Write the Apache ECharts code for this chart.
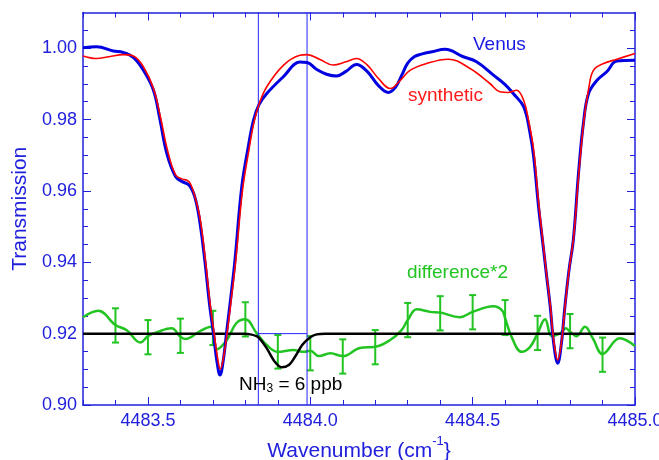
<!DOCTYPE html>
<html>
<head>
<meta charset="utf-8">
<script src="https://cdn.jsdelivr.net/npm/echarts@6/dist/echarts.min.js"></script>
<style>
html,body{margin:0;padding:0;background:#fff;}
#chart{width:659px;height:460px;}
</style>
</head>
<body>
<div id="chart"></div>
<script>
// ---- data ----
var xMajorTicks = [4483.5, 4484.0, 4484.5, 4485.0];
var xMinorTicks = [4483.3, 4483.4, 4483.5, 4483.6, 4483.7, 4483.8, 4483.9, 4484.0, 4484.1, 4484.2, 4484.3, 4484.4, 4484.5, 4484.6, 4484.7, 4484.8, 4484.9, 4485.0];
var yMajorTicks = [0.90, 0.92, 0.94, 0.96, 0.98, 1.00];
var yMinorTicks = [0.905, 0.91, 0.915, 0.925, 0.93, 0.935, 0.945, 0.95, 0.955, 0.965, 0.97, 0.975, 0.985, 0.99, 0.995, 1.005];

var venus = [
  [4483.300, 1.0001], [4483.342, 1.0004], [4483.393, 0.9992], [4483.424, 0.9988], [4483.455, 0.9974],
  [4483.486, 0.9938], [4483.517, 0.9882], [4483.537, 0.9800], [4483.558, 0.9705], [4483.585, 0.9640],
  [4483.606, 0.9626], [4483.627, 0.9616], [4483.644, 0.9584], [4483.659, 0.9518], [4483.675, 0.9406],
  [4483.690, 0.9280], [4483.702, 0.9200], [4483.712, 0.9125], [4483.722, 0.9084], [4483.732, 0.9125],
  [4483.743, 0.9210], [4483.755, 0.9300], [4483.768, 0.9406], [4483.789, 0.9612], [4483.809, 0.9724],
  [4483.825, 0.9798], [4483.842, 0.9842], [4483.866, 0.9873], [4483.917, 0.9920], [4483.968, 0.9961],
  [4483.990, 0.9960], [4484.020, 0.9940], [4484.050, 0.9927], [4484.081, 0.9922], [4484.110, 0.9935],
  [4484.142, 0.9954], [4484.175, 0.9935], [4484.210, 0.9895], [4484.240, 0.9876], [4484.262, 0.9890],
  [4484.282, 0.9925], [4484.300, 0.9958], [4484.320, 0.9976], [4484.345, 0.9984], [4484.375, 0.9990],
  [4484.415, 0.9997], [4484.471, 0.9976], [4484.512, 0.9962], [4484.565, 0.9924], [4484.600, 0.9898],
  [4484.625, 0.9873], [4484.657, 0.9836], [4484.677, 0.9761], [4484.688, 0.9695], [4484.703, 0.9555],
  [4484.715, 0.9462], [4484.728, 0.9360], [4484.739, 0.9275], [4484.750, 0.9170], [4484.762, 0.9117],
  [4484.773, 0.9170], [4484.784, 0.9275], [4484.797, 0.9380], [4484.810, 0.9462], [4484.826, 0.9649],
  [4484.841, 0.9789], [4484.857, 0.9873], [4484.883, 0.9910], [4484.913, 0.9934], [4484.944, 0.9964],
  [4485.000, 0.9966]
];

var synthetic = [
  [4483.300, 0.9978], [4483.340, 0.9971], [4483.380, 0.9976], [4483.424, 0.9982], [4483.455, 0.9978],
  [4483.486, 0.9948], [4483.517, 0.9887], [4483.539, 0.9805], [4483.560, 0.9715], [4483.585, 0.9645],
  [4483.606, 0.9633], [4483.620, 0.9630], [4483.631, 0.9620], [4483.646, 0.9580], [4483.661, 0.9520],
  [4483.677, 0.9406], [4483.692, 0.9280], [4483.704, 0.9200], [4483.714, 0.9135], [4483.723, 0.9100],
  [4483.733, 0.9135], [4483.745, 0.9210], [4483.757, 0.9300], [4483.770, 0.9400], [4483.791, 0.9600],
  [4483.811, 0.9715], [4483.826, 0.9790], [4483.842, 0.9842], [4483.866, 0.9892], [4483.917, 0.9952],
  [4483.968, 0.9980], [4483.990, 0.9982], [4484.030, 0.9968], [4484.070, 0.9953], [4484.110, 0.9962],
  [4484.142, 0.9971], [4484.175, 0.9953], [4484.210, 0.9915], [4484.246, 0.9887], [4484.277, 0.9910],
  [4484.307, 0.9938], [4484.358, 0.9957], [4484.425, 0.9969], [4484.492, 0.9943], [4484.553, 0.9901],
  [4484.584, 0.9878], [4484.610, 0.9876], [4484.635, 0.9882], [4484.657, 0.9854], [4484.672, 0.9798],
  [4484.688, 0.9714], [4484.703, 0.9570], [4484.715, 0.9470], [4484.728, 0.9365], [4484.739, 0.9280],
  [4484.750, 0.9180], [4484.762, 0.9126], [4484.774, 0.9180], [4484.785, 0.9280], [4484.798, 0.9385],
  [4484.811, 0.9470], [4484.828, 0.9660], [4484.843, 0.9800], [4484.858, 0.9890], [4484.872, 0.9938],
  [4484.903, 0.9957], [4484.944, 0.9969], [4485.000, 0.9985]
];

var difference = [
  [4483.300, 0.9246], [4483.347, 0.9264], [4483.400, 0.9224], [4483.434, 0.9210], [4483.477, 0.9175],
  [4483.500, 0.9193], [4483.530, 0.9205], [4483.573, 0.9215], [4483.600, 0.9191], [4483.615, 0.9185],
  [4483.662, 0.9208], [4483.693, 0.9219], [4483.712, 0.9156], [4483.743, 0.9182], [4483.772, 0.9229],
  [4483.800, 0.9240], [4483.835, 0.9201], [4483.866, 0.9168], [4483.900, 0.9149], [4483.948, 0.9154],
  [4483.980, 0.9149], [4484.000, 0.9152], [4484.026, 0.9137], [4484.062, 0.9145], [4484.100, 0.9137],
  [4484.153, 0.9160], [4484.200, 0.9163], [4484.246, 0.9182], [4484.281, 0.9210], [4484.300, 0.9238],
  [4484.328, 0.9268], [4484.369, 0.9261], [4484.400, 0.9259], [4484.461, 0.9246], [4484.500, 0.9261],
  [4484.564, 0.9277], [4484.590, 0.9266], [4484.600, 0.9243], [4484.620, 0.9191], [4484.651, 0.9149],
  [4484.677, 0.9163], [4484.700, 0.9201], [4484.723, 0.9240], [4484.744, 0.9193], [4484.770, 0.9201],
  [4484.787, 0.9215], [4484.800, 0.9205], [4484.820, 0.9193], [4484.846, 0.9219], [4484.870, 0.9187],
  [4484.900, 0.9143], [4484.953, 0.9187], [4485.000, 0.9165]
];

// error bar centres and half-heights
var errX = [4483.4, 4483.5, 4483.6, 4483.7, 4483.8, 4483.9, 4484.0, 4484.1, 4484.2, 4484.3, 4484.4, 4484.5, 4484.6, 4484.7, 4484.8, 4484.9];
var errY = [0.9223, 0.9190, 0.9194, 0.9216, 0.9240, 0.9149, 0.9145, 0.9136, 0.9162, 0.9238, 0.9257, 0.9260, 0.9245, 0.9202, 0.9207, 0.9141];
var errHalf = [0.0048, 0.0048, 0.0048, 0.0048, 0.0048, 0.0047, 0.0048, 0.0048, 0.0048, 0.0048, 0.0048, 0.0048, 0.0049, 0.0048, 0.0048, 0.0048];

var nh3Model = [
  [4483.300, 0.9200], [4483.600, 0.9200], [4483.760, 0.9200], [4483.790, 0.91995], [4483.815, 0.9198],
  [4483.840, 0.9190], [4483.865, 0.9160], [4483.890, 0.9122], [4483.912, 0.9106], [4483.935, 0.9113],
  [4483.955, 0.9138], [4483.975, 0.9168], [4484.000, 0.9190], [4484.020, 0.9198], [4484.045, 0.92],
  [4484.080, 0.9200], [4484.500, 0.9200], [4485.000, 0.9200]
];

var windowEdges = [4483.84, 4483.99];
var baseline = 0.92;

// ---- chart ----
var AX = '#2020dd';
var WIN = '#2424ff';
var FONT = '"Liberation Sans", Arial, sans-serif';
var xMin = 4483.3, xMax = 4485.0, yMin = 0.90, yMax = 1.01;

var errData = errX.map(function (x, i) { return [x, errY[i], errHalf[i]]; });

function axisCommon(extra) {
  var o = {
    type: 'value',
    splitLine: { show: false },
    axisLine: { show: false, lineStyle: { color: AX, width: 1.5 } },
    axisTick: { show: false },
    axisLabel: { show: false },
    axisPointer: { show: false }
  };
  for (var k in extra) o[k] = extra[k];
  return o;
}

var xAxes = [
  axisCommon({
    min: xMin, max: xMax, position: 'bottom',
    axisLine: { show: true, onZero: false, lineStyle: { color: AX, width: 1.5 } },
    axisTick: { show: true, inside: true, length: 8, customValues: xMajorTicks, lineStyle: { color: AX, width: 1 } },
    axisLabel: { show: true, customValues: xMajorTicks, margin: 7, color: AX, fontSize: 18, fontFamily: FONT,
      hideOverlap: false,
      formatter: function (v) { return v.toFixed(1); } },
    name: 'Wavenumber (cm{sup|-1}}',
    nameLocation: 'middle',
    nameGap: 26,
    nameTextStyle: { color: AX, fontSize: 21, fontFamily: FONT, lineHeight: 32,
      rich: { sup: { fontSize: 13, fontFamily: FONT, color: AX, verticalAlign: 'top', lineHeight: 2 } } }
  }),
  axisCommon({ min: xMin, max: xMax, position: 'bottom',
    axisTick: { show: true, inside: true, length: 5, customValues: xMinorTicks, lineStyle: { color: AX, width: 1 } } }),
  axisCommon({ min: xMin, max: xMax, position: 'top',
    axisLine: { show: true, onZero: false, lineStyle: { color: AX, width: 1.5 } },
    axisTick: { show: true, inside: true, length: 8, customValues: xMajorTicks, lineStyle: { color: AX, width: 1 } } }),
  axisCommon({ min: xMin, max: xMax, position: 'top',
    axisTick: { show: true, inside: true, length: 5, customValues: xMinorTicks, lineStyle: { color: AX, width: 1 } } })
];

var yAxes = [
  axisCommon({
    min: yMin, max: yMax, position: 'left',
    axisLine: { show: true, onZero: false, lineStyle: { color: AX, width: 1.5 } },
    axisTick: { show: true, inside: true, length: 8, customValues: yMajorTicks, lineStyle: { color: AX, width: 1 } },
    axisLabel: { show: true, customValues: yMajorTicks, margin: 6, color: AX, fontSize: 18, fontFamily: FONT,
      formatter: function (v) { return v.toFixed(2); } },
    name: 'Transmission',
    nameLocation: 'middle',
    nameGap: 52,
    nameTextStyle: { color: AX, fontSize: 21, fontFamily: FONT }
  }),
  axisCommon({ min: yMin, max: yMax, position: 'left',
    axisTick: { show: true, inside: true, length: 5, customValues: yMinorTicks, lineStyle: { color: AX, width: 1 } } }),
  axisCommon({ min: yMin, max: yMax, position: 'right',
    axisLine: { show: true, onZero: false, lineStyle: { color: AX, width: 1.5 } },
    axisTick: { show: true, inside: true, length: 8, customValues: yMajorTicks, lineStyle: { color: AX, width: 1 } } }),
  axisCommon({ min: yMin, max: yMax, position: 'right',
    axisTick: { show: true, inside: true, length: 5, customValues: yMinorTicks, lineStyle: { color: AX, width: 1 } } })
];

var chart = echarts.init(document.getElementById('chart'), null, { renderer: 'canvas' });
chart.setOption({
  animation: false,
  backgroundColor: '#ffffff',
  grid: { left: 83, right: 24, top: 12.5, bottom: 55, containLabel: false, outerBoundsMode: 'none' },
  xAxis: xAxes,
  yAxis: yAxes,
  series: [
    {
      name: 'difference*2', type: 'line', data: difference, smooth: 0.4, showSymbol: false,
      lineStyle: { color: '#22c422', width: 2.5 }, z: 2
    },
    {
      name: 'errors', type: 'custom', data: errData, z: 2,
      renderItem: function (params, api) {
        var x = api.value(0), y = api.value(1), e = api.value(2);
        var top = api.coord([x, y + e]);
        var bot = api.coord([x, y - e]);
        var c = 3.5;
        var st = { stroke: '#22c422', lineWidth: 2 };
        return {
          type: 'group',
          children: [
            { type: 'line', shape: { x1: top[0], y1: top[1], x2: bot[0], y2: bot[1] }, style: st },
            { type: 'line', shape: { x1: top[0] - c, y1: top[1], x2: top[0] + c, y2: top[1] }, style: st },
            { type: 'line', shape: { x1: bot[0] - c, y1: bot[1], x2: bot[0] + c, y2: bot[1] }, style: st }
          ]
        };
      }
    },
    {
      name: 'NH3', type: 'line', data: nh3Model, smooth: 0.3, showSymbol: false,
      lineStyle: { color: '#000000', width: 2.5 }, z: 3
    },
    {
      name: 'window', type: 'custom', data: [[windowEdges[0], windowEdges[1], baseline]], z: 3,
      silent: true,
      renderItem: function (params, api) {
        var x0 = api.value(0), x1 = api.value(1), yb = api.value(2);
        var a0 = api.coord([x0, yMin]), a1 = api.coord([x0, yMax]);
        var b0 = api.coord([x1, yMin]), b1 = api.coord([x1, yMax]);
        var h0 = api.coord([x0, yb]), h1 = api.coord([x1, yb]);
        var st = { stroke: WIN, lineWidth: 1 };
        return {
          type: 'group',
          children: [
            { type: 'line', shape: { x1: a0[0], y1: a0[1], x2: a1[0], y2: a1[1] }, style: st },
            { type: 'line', shape: { x1: b0[0], y1: b0[1], x2: b1[0], y2: b1[1] }, style: st },
            { type: 'line', shape: { x1: h0[0], y1: h0[1], x2: h1[0], y2: h1[1] }, style: st }
          ]
        };
      }
    },
    {
      name: 'Venus', type: 'line', data: venus, smooth: 0.4, showSymbol: false,
      lineStyle: { color: '#0000e0', width: 3 }, z: 4
    },
    {
      name: 'synthetic', type: 'line', data: synthetic, smooth: 0.4, showSymbol: false,
      lineStyle: { color: '#ff0000', width: 1.6 }, z: 5
    }
  ],
  graphic: [
    { type: 'text', left: 473, top: 35, z: 10,
      style: { text: 'Venus', fill: '#1a1ae6', font: '19px ' + FONT } },
    { type: 'text', left: 408, top: 86, z: 10,
      style: { text: 'synthetic', fill: '#ff1a1a', font: '19px ' + FONT } },
    { type: 'text', left: 407, top: 263, z: 10,
      style: { text: 'difference*2', fill: '#22c422', font: '19px ' + FONT } },
    { type: 'text', left: 239, top: 375, z: 10,
      style: { text: 'NH{sub|3} = 6 ppb', fill: '#000000', font: '19px ' + FONT, lineHeight: 20,
        rich: { sub: { fontSize: 12, fontFamily: FONT, fill: '#000000', verticalAlign: 'bottom', lineHeight: 10 } } } }
  ]
});
</script>
</body>
</html>
